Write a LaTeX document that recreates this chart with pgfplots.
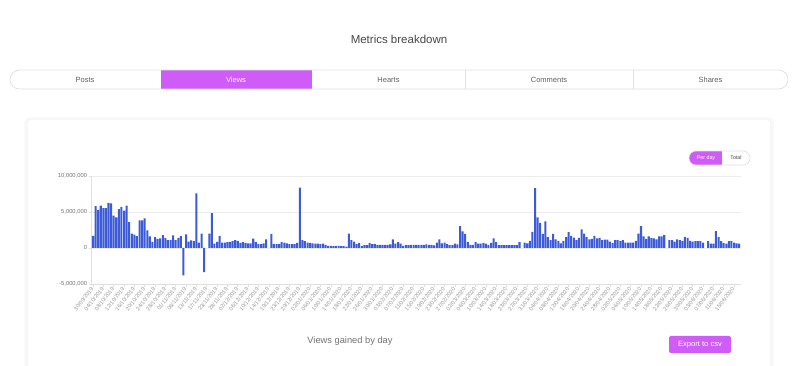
\documentclass[border=0pt]{standalone}
\usepackage{pgfplots}
\pgfplotsset{compat=1.18}
\usepackage{fontspec}
\setmainfont{Liberation Sans}
\definecolor{purp}{HTML}{CF5CF6}
\definecolor{barblue}{HTML}{3D5BD9}
\definecolor{txtgray}{HTML}{9A9A9A}
\pgfplotstableread{
x y
0 1700000
1 5800000
2 5300000
3 5900000
4 5550000
5 5550000
6 6250000
7 6200000
8 4500000
9 4250000
10 5400000
11 5700000
12 5200000
13 5900000
14 3600000
15 2000000
16 1850000
17 1650000
18 3850000
19 3850000
20 4100000
21 2450000
22 1600000
23 850000
24 1500000
25 1250000
26 1350000
27 1800000
28 1400000
29 1100000
30 1100000
31 1750000
32 1100000
33 1400000
34 1650000
35 -3800000
36 1900000
37 900000
38 1050000
39 950000
40 7600000
41 750000
42 2000000
43 -3350000
45 2000000
46 4850000
47 600000
48 850000
49 1700000
50 750000
51 750000
52 800000
53 850000
54 950000
55 1100000
56 1000000
57 700000
58 800000
59 700000
60 650000
61 650000
62 1300000
63 800000
64 550000
65 550000
66 650000
67 1200000
69 1950000
70 550000
71 550000
72 550000
73 800000
74 750000
75 650000
76 550000
77 550000
78 550000
79 700000
80 8400000
81 1100000
82 950000
83 750000
84 700000
85 650000
86 600000
87 600000
88 550000
89 600000
90 450000
91 300000
92 300000
93 250000
94 300000
95 300000
96 250000
97 250000
98 200000
99 2000000
100 1100000
101 900000
102 550000
103 700000
104 250000
105 400000
106 400000
107 700000
108 550000
109 550000
110 450000
111 450000
112 450000
113 450000
114 450000
115 500000
116 1200000
117 600000
118 800000
119 600000
120 300000
121 400000
122 400000
123 450000
124 450000
125 450000
126 450000
127 450000
128 450000
129 500000
130 450000
131 450000
132 350000
133 750000
134 1200000
135 650000
136 750000
137 550000
138 400000
139 400000
140 600000
141 500000
142 3050000
143 2300000
144 1950000
145 850000
146 450000
147 450000
148 800000
149 600000
150 600000
151 700000
152 600000
153 450000
154 700000
155 1350000
156 800000
157 400000
158 400000
159 400000
160 400000
161 400000
162 400000
163 400000
164 400000
165 800000
167 750000
168 650000
169 1000000
170 2250000
171 8300000
172 4250000
173 3500000
174 1950000
175 3700000
176 1500000
177 1100000
178 1950000
179 1200000
180 1000000
181 650000
182 1000000
183 1500000
184 2200000
185 1700000
186 1450000
187 1100000
188 1400000
189 2600000
190 2000000
191 1500000
192 1200000
193 1250000
194 1700000
195 1350000
196 1400000
197 1100000
198 1150000
199 1150000
200 900000
201 700000
202 1100000
203 1100000
204 950000
205 1100000
206 750000
207 750000
208 750000
209 750000
210 1000000
211 2000000
212 3050000
213 1600000
214 1250000
215 1600000
216 1400000
217 1350000
218 1200000
219 1600000
220 1600000
221 1800000
223 1100000
224 1100000
225 900000
226 1200000
227 1100000
228 1000000
229 1550000
230 1400000
231 1000000
232 900000
233 950000
234 950000
235 950000
236 750000
238 950000
239 600000
240 600000
241 2350000
242 1500000
243 950000
244 700000
245 600000
246 950000
247 950000
248 750000
249 650000
250 600000
}\views
\begin{document}
\begin{tikzpicture}
\path[use as bounding box] (0pt,0pt) rectangle (800pt,366pt);
\fill[white] (0pt,0pt) rectangle (800pt,366pt);
% title
\node[font=\fontsize{11.5}{13}\selectfont, text=black!72] at (399pt,327pt) {Metrics breakdown};
% tabs
\begin{scope}
\clip[rounded corners=9.5pt] (10pt,277pt) rectangle (788pt,296pt);
\fill[purp] (160.5pt,277pt) rectangle (312pt,296pt);
\end{scope}
\draw[black!12, line width=0.7pt, rounded corners=9.5pt] (10pt,277pt) rectangle (788pt,296pt);
\draw[black!12, line width=0.7pt] (465pt,277pt) -- (465pt,296pt) (633pt,277pt) -- (633pt,296pt);
\begin{scope}[every node/.style={font=\fontsize{7.5}{9}\selectfont, text=black!62}]
\node at (85pt,286.5pt) {Posts};
\node[text=white] at (236pt,286.5pt) {Views};
\node at (388.5pt,286.5pt) {Hearts};
\node at (549pt,286.5pt) {Comments};
\node at (710.5pt,286.5pt) {Shares};
\end{scope}
% card with faint shadow
\fill[black!2, rounded corners=5pt] (24pt,-10pt) rectangle (774pt,249pt);
\fill[black!3.5, rounded corners=4pt] (26pt,-10pt) rectangle (772pt,247.5pt);
\fill[white, rounded corners=3pt] (28pt,-10pt) rectangle (770pt,246pt);
% toggle
\begin{scope}
\clip[rounded corners=7pt] (689pt,201pt) rectangle (750pt,215pt);
\fill[purp] (689pt,201pt) rectangle (722pt,215pt);
\end{scope}
\draw[black!12, line width=0.6pt, rounded corners=7pt] (689pt,201pt) rectangle (750pt,215pt);
\node[font=\fontsize{5.3}{6}\selectfont, text=white] at (706pt,208pt) {Per day};
\node[font=\fontsize{5.3}{6}\selectfont, text=black!70] at (736pt,208pt) {Total};
% footer texts
\node[font=\fontsize{9.3}{11}\selectfont, text=black!55] at (350pt,25pt) {Views gained by day};
\fill[purp, rounded corners=2pt] (669pt,13pt) rectangle (731pt,30pt);
\node[font=\fontsize{7.6}{9}\selectfont, text=white] at (700pt,21.5pt) {Export to csv};
% chart
\begin{axis}[
  at={(91.7pt,82pt)}, anchor=south west,
  scale only axis, width=648.8pt, height=108pt,
  xmin=-0.5, xmax=250.5, ymin=-5000000, ymax=10000000,
  enlargelimits=false,
  ybar, bar width=0.78,
  axis x line*=bottom, axis y line*=left,
  axis line style={draw=black!12, line width=0.6pt},
  ytick={-5000000,0,5000000,10000000},
  yticklabels={{-5,000,000},{0},{5,000,000},{10,000,000}},
  scaled y ticks=false,
  ymajorgrids, grid style={draw=black!7, line width=0.6pt},
  xtick={0,4,...,248},
  xticklabels={30/09/2019,04/10/2019,08/10/2019,12/10/2019,16/10/2019,20/10/2019,24/10/2019,28/10/2019,01/11/2019,06/11/2019,13/11/2019,17/11/2019,23/11/2019,28/11/2019,02/12/2019,06/12/2019,10/12/2019,14/12/2019,19/12/2019,23/12/2019,29/12/2019,02/01/2020,06/01/2020,10/01/2020,14/01/2020,18/01/2020,22/01/2020,26/01/2020,30/01/2020,03/02/2020,07/02/2020,11/02/2020,15/02/2020,19/02/2020,23/02/2020,27/02/2020,02/03/2020,06/03/2020,10/03/2020,14/03/2020,18/03/2020,23/03/2020,27/03/2020,31/03/2020,04/04/2020,08/04/2020,12/04/2020,16/04/2020,20/04/2020,24/04/2020,28/04/2020,02/05/2020,06/05/2020,10/05/2020,14/05/2020,18/05/2020,22/05/2020,26/05/2020,30/05/2020,03/06/2020,07/06/2020,11/06/2020,15/06/2020},
  tick style={draw=black!12, line width=0.5pt},
  major tick length=3pt,
  tick align=outside,
  xticklabel style={rotate=52, anchor=east, font=\fontsize{5.6}{6}\selectfont, text=txtgray, inner sep=1pt},
  yticklabel style={font=\fontsize{5.8}{6.5}\selectfont, text=black!55, inner sep=1.5pt},
]
\addplot[fill=barblue, draw=none] table[x=x, y=y] {\views};
\end{axis}
\end{tikzpicture}
\end{document}
